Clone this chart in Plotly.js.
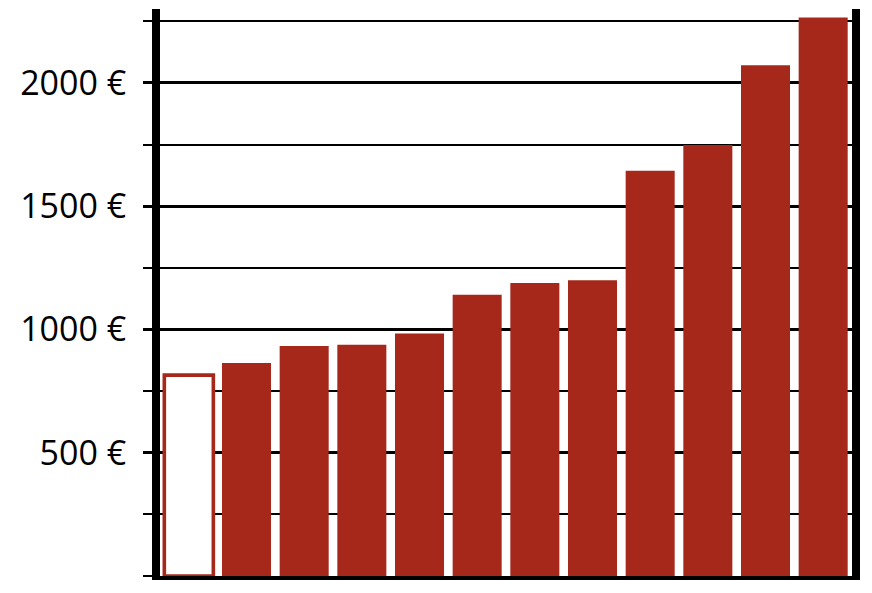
<!DOCTYPE html>
<html>
<head>
<meta charset="utf-8">
<script src="https://cdn.plot.ly/plotly-3.0.1.min.js"></script>
<style>html,body{margin:0;padding:0;background:#fff;}#chart{width:872px;height:593px;}</style>
</head>
<body>
<div id="chart"></div>
<script>
const categories = ["1","2","3","4","5","6","7","8","9","10","11","12"];
const values = [815, 864, 933, 938, 984, 1141, 1189, 1200, 1644, 1748, 2072, 2266];
const tickValues = [500, 1000, 1500, 2000];
const tickLabels = ["500 €", "1000 €", "1500 €", "2000 €"];

const red = "#A5281A";
const fillColors = values.map((v, i) => i === 0 ? "#ffffff" : red);
const lineWidths = values.map((v, i) => i === 0 ? 3.6 : 0);

const trace = {
  type: "bar",
  x: categories,
  y: values,
  marker: { color: fillColors, line: { color: red, width: lineWidths } },
  hoverinfo: "skip"
};

const layout = {
  width: 872, height: 593,
  margin: { l: 160, r: 20, t: 9, b: 17, pad: 0 },
  paper_bgcolor: "#ffffff", plot_bgcolor: "#ffffff",
  showlegend: false,
  bargap: 0.15,
  xaxis: {
    type: "category",
    showticklabels: false, ticks: "",
    showgrid: false, zeroline: false,
    showline: true, linecolor: "#000", linewidth: 4,
    range: [-0.5, 11.5]
  },
  yaxis: {
    range: [0, 2300],
    tickmode: "array", tickvals: tickValues, ticktext: tickLabels,
    ticks: "outside", ticklen: 9, tickwidth: 3, tickcolor: "#000",
    showgrid: true, gridcolor: "#000", gridwidth: 3,
    zeroline: false,
    showline: true, linecolor: "#000", linewidth: 8, mirror: true,
    ticklabelstandoff: 10,
    tickfont: { family: "Open Sans", size: 34, color: "#000" },
    minor: {
      dtick: 250, tick0: 0, ticks: "outside", ticklen: 9, tickwidth: 2, tickcolor: "#000",
      showgrid: true, gridcolor: "#000", gridwidth: 2
    }
  }
};

Plotly.newPlot("chart", [trace], layout, { displayModeBar: false, staticPlot: true });
</script>
</body>
</html>
